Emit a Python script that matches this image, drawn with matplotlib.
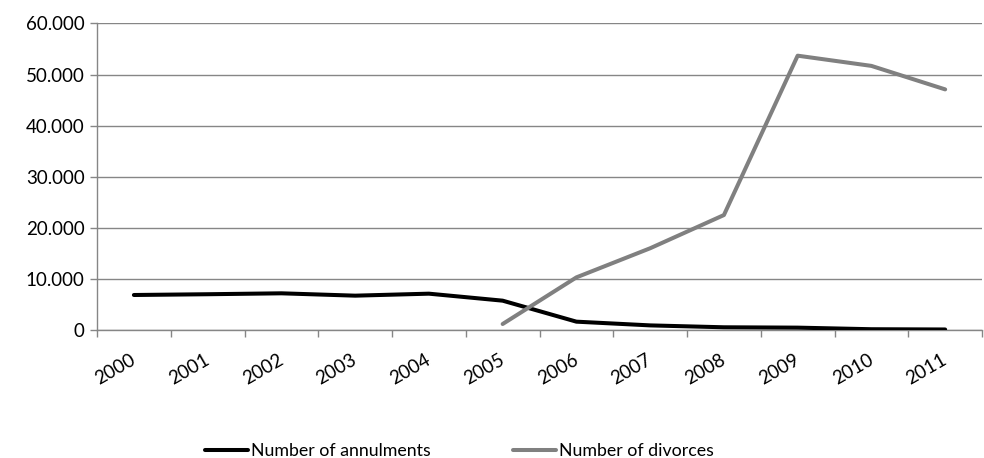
import matplotlib
matplotlib.use("Agg")
import matplotlib.pyplot as plt
import matplotlib.transforms as mtransforms
from matplotlib.ticker import FuncFormatter, FixedLocator

plt.rcParams['font.family'] = ['Lato', 'DejaVu Sans']

years = [str(y) for y in range(2000, 2012)]
annulments = [6850, 7000, 7180, 6720, 7110, 5740, 1630, 900, 530, 460, 150, 100]
divorce_years = years[5:]
divorces = [1170, 10300, 16000, 22500, 53700, 51700, 47100]

grey = '#868686'
fs = 13.5
fig = plt.figure(figsize=(9.84, 4.58), dpi=100)
ax = fig.add_axes([0.0986, 0.2795, 0.8994, 0.6692])

x_all = list(range(len(years)))
x_div = [years.index(y) for y in divorce_years]

ax.plot(x_all, annulments, color='#000000', lw=2.9, solid_capstyle='round',
        solid_joinstyle='round', label='Number of annulments', zorder=3)
ax.plot(x_div, divorces, color='#808080', lw=2.9, solid_capstyle='round',
        solid_joinstyle='round', label='Number of divorces', zorder=3)

ax.set_xlim(-0.5, len(years) - 0.5)
ax.set_ylim(0, 60000)
ax.set_yticks(range(0, 60001, 10000))
ax.yaxis.set_major_formatter(FuncFormatter(lambda v, p: f"{int(v):,}".replace(',', '.')))
ax.grid(axis='y', color=grey, lw=1.0)
ax.set_axisbelow(True)

for s in ['top', 'right']:
    ax.spines[s].set_visible(False)
for s in ['left', 'bottom']:
    ax.spines[s].set_color(grey)
    ax.spines[s].set_linewidth(1.0)

ax.tick_params(axis='y', length=5, color=grey, width=1.0, labelsize=fs, pad=4,
               labelcolor='#000000')

# category boundary ticks on the x axis, labels at category centres
ax.xaxis.set_minor_locator(FixedLocator([i - 0.5 for i in range(len(years) + 1)]))
ax.set_xticks(x_all)
ax.set_xticklabels(years, rotation=30, ha='right', rotation_mode='anchor')
ax.tick_params(axis='x', which='major', length=0, labelsize=fs, pad=15)
ax.tick_params(axis='x', which='minor', length=5, color=grey, width=1.0)
shift = mtransforms.ScaledTranslation(-4 / 100, 0, fig.dpi_scale_trans)
for lbl in ax.get_xticklabels():
    lbl.set_transform(lbl.get_transform() + shift)

fig.legend(loc='lower center', bbox_to_anchor=(0.467, -0.038), ncol=2, frameon=False,
           fontsize=12.8, handlelength=2.4, handletextpad=0.2, columnspacing=4.6)

fig.savefig('out.png', dpi=100)
